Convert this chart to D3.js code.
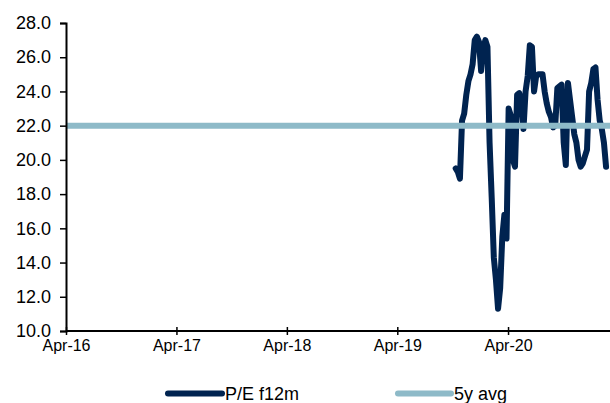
<!DOCTYPE html>
<html>
<head>
<meta charset="utf-8">
<script src="https://cdn.jsdelivr.net/npm/d3@7"></script>
<style>
  html, body { margin: 0; padding: 0; background: #fff; }
  svg { display: block; font-family: "Liberation Sans", Arial, sans-serif; }
</style>
</head>
<body>
<svg id="chart" width="610" height="403"></svg>
<script>
// Weekly forward P/E readings
const dates = [
  "2019-10-11","2019-10-18","2019-10-25","2019-11-01","2019-11-08","2019-11-15","2019-11-22","2019-11-29",
  "2019-12-06","2019-12-13","2019-12-20","2019-12-27","2020-01-03","2020-01-10","2020-01-17","2020-01-24",
  "2020-01-31","2020-02-07","2020-02-14","2020-02-21","2020-02-28","2020-03-06","2020-03-13","2020-03-20",
  "2020-03-27","2020-04-03","2020-04-10","2020-04-17","2020-04-24","2020-05-01","2020-05-08","2020-05-15",
  "2020-05-22","2020-05-29","2020-06-05","2020-06-12","2020-06-19","2020-06-26","2020-07-03","2020-07-10",
  "2020-07-17","2020-07-24","2020-07-31","2020-08-07","2020-08-14","2020-08-21","2020-08-28","2020-09-04",
  "2020-09-11","2020-09-18","2020-09-25","2020-10-02","2020-10-09","2020-10-16","2020-10-23","2020-10-30",
  "2020-11-06","2020-11-13","2020-11-20","2020-11-27","2020-12-04","2020-12-11","2020-12-18","2020-12-25",
  "2021-01-01","2021-01-08","2021-01-15","2021-01-22","2021-01-29","2021-02-05","2021-02-12","2021-02-19"
];
const peValues = [
  19.5, 19.3, 18.9, 22.3, 22.7, 23.8, 24.6, 25.0,
  25.6, 27.0, 27.2, 26.9, 25.2, 26.5, 27.0, 26.6,
  21.0, 17.8, 14.3, 13.0, 11.3, 12.5, 15.5, 16.8,
  15.4, 23.0, 22.6, 20.0, 19.6, 23.8, 23.9, 23.4,
  21.8, 24.0, 24.9, 26.7, 26.6, 24.0, 24.9, 25.0,
  25.0, 25.0, 24.0, 23.3, 22.8, 22.5, 21.9, 22.0,
  24.2, 24.3, 24.4, 21.0, 19.7, 24.5, 23.5, 22.5,
  21.5, 21.0, 20.0, 19.6, 19.8, 20.2, 20.6, 24.0,
  24.5, 25.3, 25.4, 23.5, 22.3, 21.8, 21.0, 19.6
];
const avgValue = 22.0;
const axisStart = "2016-04-01";
const axisEnd = "2021-03-04";
const xTickDates = ["2016-04-01","2017-04-01","2018-04-01","2019-04-01","2020-04-01"];
const yTicks = [10, 12, 14, 16, 18, 20, 22, 24, 26, 28];
const seriesNames = ["P/E f12m", "5y avg"];
const colors = ["#002350", "#8ebac8"];

const parse = d3.timeParse("%Y-%m-%d");
const fmtX = d3.timeFormat("%b-%y");

const svg = d3.select("#chart");
const plotLeft = 66, plotRight = 610, plotTop = 23, plotBottom = 331;

const x = d3.scaleTime()
  .domain([parse(axisStart), parse(axisEnd)])
  .range([plotLeft, plotRight]);
const y = d3.scaleLinear()
  .domain([10, 28])
  .range([plotBottom, plotTop]);

const series = dates.map((d, i) => ({ date: parse(d), value: peValues[i] }));

// P/E line
svg.append("path")
  .datum(series)
  .attr("fill", "none")
  .attr("stroke", colors[0])
  .attr("stroke-width", 6)
  .attr("stroke-linejoin", "round")
  .attr("stroke-linecap", "round")
  .attr("d", d3.line().x(d => x(d.date)).y(d => y(d.value)));

// 5-year average line across the whole window
svg.append("path")
  .datum([parse(axisStart), parse(axisEnd)])
  .attr("fill", "none")
  .attr("stroke", colors[1])
  .attr("stroke-width", 6)
  .attr("d", d3.line().x(d => x(d)).y(() => y(avgValue)));

// Y axis
const yAxis = svg.append("g")
  .attr("transform", `translate(${plotLeft},0)`)
  .call(d3.axisLeft(y).tickValues(yTicks).tickFormat(d3.format(".1f")).tickSize(6).tickPadding(9));
yAxis.select(".domain").attr("stroke", "#000").attr("stroke-width", 2);
yAxis.selectAll(".tick line").attr("stroke", "#000").attr("stroke-width", 1.5);
yAxis.selectAll("text").attr("font-size", 18).attr("fill", "#000")
  .attr("font-family", "Liberation Sans, Arial, sans-serif");

// X axis
const xAxis = svg.append("g")
  .attr("transform", `translate(0,${plotBottom})`)
  .call(d3.axisBottom(x).tickValues(xTickDates.map(parse)).tickFormat(fmtX).tickSize(4).tickPadding(5));
xAxis.select(".domain").attr("stroke", "#000").attr("stroke-width", 2)
  .attr("d", `M${plotLeft},0H${plotRight}`);
xAxis.selectAll(".tick line").attr("stroke", "#000").attr("stroke-width", 1.5).attr("y1", -4);
xAxis.selectAll("text").attr("font-size", 16).attr("fill", "#000")
  .attr("font-family", "Liberation Sans, Arial, sans-serif");

// Legend
const legendItems = [
  { name: seriesNames[0], color: colors[0], x1: 168, x2: 222, tx: 225 },
  { name: seriesNames[1], color: colors[1], x1: 398, x2: 451, tx: 454 }
];
const legend = svg.append("g");
legendItems.forEach(item => {
  legend.append("line")
    .attr("x1", item.x1).attr("x2", item.x2)
    .attr("y1", 393.5).attr("y2", 393.5)
    .attr("stroke", item.color).attr("stroke-width", 6)
    .attr("stroke-linecap", "round");
  legend.append("text")
    .attr("x", item.tx).attr("y", 400)
    .attr("font-size", 18).attr("fill", "#000")
    .text(item.name);
});
</script>
</body>
</html>
